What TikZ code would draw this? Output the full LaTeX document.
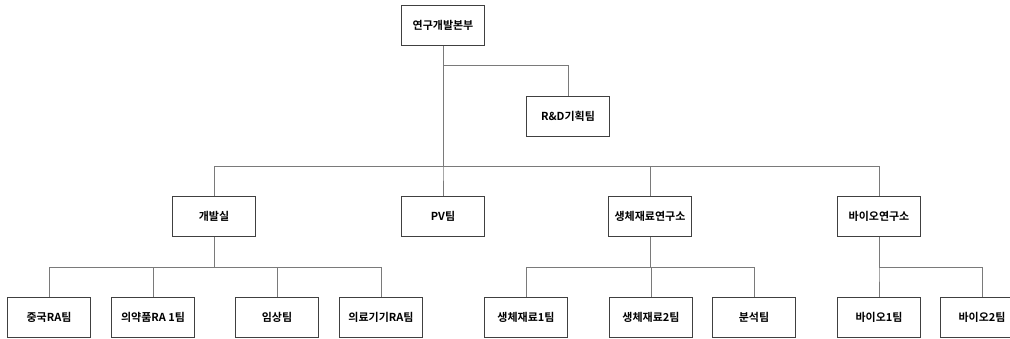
\documentclass[tikz,border=0pt]{standalone}
\usepackage{fontspec}
\setmainfont{Noto Sans CJK KR}[BoldFont={Noto Sans CJK KR Bold}]
\usetikzlibrary{positioning}

\definecolor{boxgray}{HTML}{404040}
\definecolor{linkgray}{HTML}{7A7A7A}

\begin{document}
\begin{tikzpicture}[
  box/.style={rectangle, draw=boxgray, line width=0.9pt, minimum width=83pt, minimum height=40pt, inner sep=0pt, font=\bfseries\fontsize{11pt}{13pt}\selectfont, align=center},
  link/.style={draw=linkgray, line width=0.9pt},
  font=\small
]
\useasboundingbox (0,0) rectangle (1010pt,-338pt);

% head office and planning team
\node[box] (hq) at (443pt,-25.5pt) {연구개발본부};
\node[box, right of=hq, node distance=125pt, yshift=-90.5pt] (plan) {R\&D기획팀};

% second row
\node[box, below of=hq, node distance=191pt] (pv) {PV팀};
\node[box, left of=pv, node distance=229pt] (dev) {개발실};
\node[box, right of=pv, node distance=207pt] (biomat) {생체재료연구소};
\node[box, right of=biomat, node distance=229pt] (bio) {바이오연구소};

% teams under 개발실
\node[box, below of=dev, node distance=100.5pt, xshift=-165pt] (china) {중국RA팀};
\node[box, right of=china, node distance=104pt] (drug) {의약품RA 1팀};
\node[box, right of=drug, node distance=124pt] (clinic) {임상팀};
\node[box, right of=clinic, node distance=104pt] (device) {의료기기RA팀};

% teams under 생체재료연구소
\node[box, below of=biomat, node distance=100.5pt, xshift=-124pt] (mat1) {생체재료1팀};
\node[box, right of=mat1, node distance=125pt] (mat2) {생체재료2팀};
\node[box, right of=mat2, node distance=103pt] (anal) {분석팀};

% teams under 바이오연구소
\node[box, below of=bio, node distance=100.5pt] (bio1) {바이오1팀};
\node[box, right of=bio1, node distance=103pt] (bio2) {바이오2팀};

\draw[link] (hq.south) |- ([yshift=30pt]plan.north) -- (plan.north);
\foreach \c in {dev, pv, biomat, bio}
  \draw[link] (hq.south) -- ++(0,-120pt) -| (\c.north);
\foreach \c in {china, drug, clinic, device}
  \draw[link] (dev.south) -- ++(0,-30pt) -| (\c.north);
\foreach \c in {mat1, mat2, anal}
  \draw[link] (biomat.south) -- ++(0,-30pt) -| (\c.north);
\foreach \c in {bio1, bio2}
  \draw[link] (bio.south) -- ++(0,-30pt) -| (\c.north);
\end{tikzpicture}
\end{document}
